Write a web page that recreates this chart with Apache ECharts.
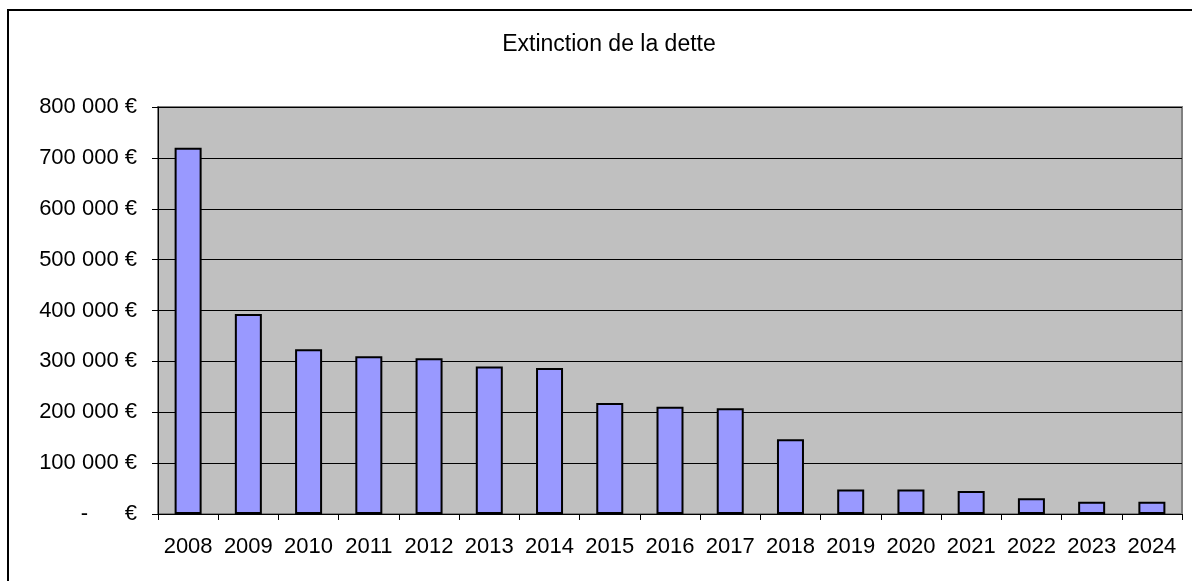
<!DOCTYPE html>
<html>
<head>
<meta charset="utf-8">
<script src="https://cdn.jsdelivr.net/npm/echarts@6/dist/echarts.min.js"></script>
<style>
html,body{margin:0;padding:0;background:#fff;}
#c{width:1192px;height:581px;}
</style>
</head>
<body>
<div id="c"></div>
<script>
var titleText = 'Extinction de la dette';
var categories = ['2008','2009','2010','2011','2012','2013','2014','2015','2016','2017','2018','2019','2020','2021','2022','2023','2024'];
var values = [720000,393000,324000,310000,306000,290000,287000,218000,211000,208000,147000,48000,48000,45000,31000,24000,24000];
var yMin = 0, yMax = 800000, yStep = 100000;

function fmt(v){
  if (v === 0) return '-      €';
  var s = String(Math.round(v));
  s = s.replace(/\B(?=(\d{3})+(?!\d))/g, ' ');
  return s + ' €';
}

var font = 'Liberation Sans, Arial, sans-serif';
var chart = echarts.init(document.getElementById('c'), null, {renderer:'canvas'});
chart.setOption({
  animation: false,
  backgroundColor: '#ffffff',
  title: {
    text: titleText,
    left: 604,
    top: 28,
    textAlign: 'center',
    textStyle: {fontFamily: font, fontSize: 23, fontWeight: 'normal', color: '#000'}
  },
  graphic: [{
    type: 'rect',
    shape: {x: 8, y: 10, width: 1250, height: 650},
    style: {fill: 'none', stroke: '#000', lineWidth: 2},
    z: 100
  }],
  grid: {
    left: 158, right: 10, top: 107, bottom: 67,
    show: true, backgroundColor: '#C0C0C0', borderColor: '#808080', borderWidth: 2
  },
  xAxis: {
    type: 'category',
    data: categories,
    axisLine: {lineStyle: {color: '#000', width: 1}},
    axisTick: {show: true, length: 6, interval: 0, alignWithLabel: false, lineStyle: {color: '#000'}},
    axisLabel: {interval: 0, margin: 22, fontFamily: font, fontSize: 22, color: '#000'},
    splitLine: {show: false}
  },
  yAxis: {
    type: 'value',
    min: yMin, max: yMax, interval: yStep,
    axisLine: {show: true, lineStyle: {color: '#000', width: 1}},
    axisTick: {show: true, length: 6, lineStyle: {color: '#000'}},
    axisLabel: {margin: 21, fontFamily: font, fontSize: 22, color: '#000', formatter: fmt},
    splitLine: {show: true, lineStyle: {color: '#000', width: 1}}
  },
  series: [{
    type: 'bar',
    data: values,
    barWidth: 27,
    itemStyle: {color: '#9999FF', borderColor: '#000', borderWidth: 2}
  }]
});
</script>
</body>
</html>
